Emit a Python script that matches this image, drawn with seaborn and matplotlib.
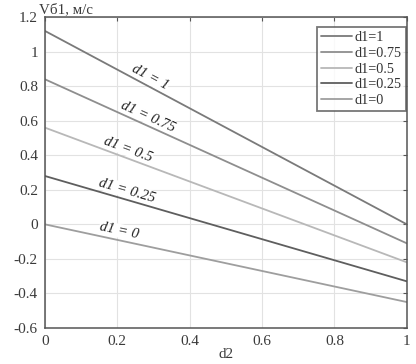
import numpy as np
import pandas as pd
import matplotlib
matplotlib.use("Agg")
import matplotlib.pyplot as plt
import seaborn as sns

# Data: each line runs straight from d2=0 to d2=1
d2_points = [0.0, 1.0]
d1_values = ["1", "0.75", "0.5", "0.25", "0"]
v_at_start = [1.12, 0.84, 0.56, 0.28, 0.0]
v_at_end = [0.0, -0.11, -0.22, -0.33, -0.45]
line_colors = ["#7a7a7a", "#8e8e8e", "#b8b8b8", "#5e5e5e", "#9e9e9e"]

# where the in-plot labels sit along each line (d2 position)
label_d2 = [0.29, 0.285, 0.23, 0.226, 0.205]

x_ticks = [0, 0.2, 0.4, 0.6, 0.8, 1]
x_tick_labels = ["0", "0.2", "0.4", "0.6", "0.8", "1"]
y_ticks = [-0.6, -0.4, -0.2, 0, 0.2, 0.4, 0.6, 0.8, 1, 1.2]
y_tick_labels = ["-0.6", "-0.4", "-0.2", "0", "0.2", "0.4", "0.6", "0.8", "1", "1.2"]

# Long-form table for seaborn
rows = []
for d1, v0, v1 in zip(d1_values, v_at_start, v_at_end):
    for d2, v in zip(d2_points, [v0, v1]):
        rows.append({"d2": d2, "V": v, "series": f"d1={d1}"})
df = pd.DataFrame(rows)
series_order = [f"d1={d1}" for d1 in d1_values]

sns.set_style("whitegrid", {"grid.color": "#e2e2e2", "axes.edgecolor": "#555555"})
plt.rcParams["font.family"] = ["Liberation Serif", "DejaVu Serif"]

fig, ax = plt.subplots(figsize=(4.16, 3.64), dpi=100)
fig.subplots_adjust(left=0.108, right=0.978, top=0.953, bottom=0.099)

sns.lineplot(data=df, x="d2", y="V", hue="series", hue_order=series_order,
             palette=dict(zip(series_order, line_colors)), linewidth=1.3, ax=ax)

ax.set_xlim(0, 1)
ax.set_ylim(-0.6, 1.2)
ax.set_xticks(x_ticks)
ax.set_xticklabels(x_tick_labels)
ax.set_yticks(y_ticks)
ax.set_yticklabels(y_tick_labels)
ax.tick_params(direction="in", length=3, width=0.8, colors="#555555",
               labelcolor="#3a3a3a", labelsize=11, top=True, right=True, pad=5)
ax.grid(True, linewidth=0.8)
for sp in ax.spines.values():
    sp.set_linewidth(1.1)
    sp.set_color("#555555")

ax.set_xlabel("d2", fontsize=11, color="#3a3a3a", labelpad=0)
ax.set_ylabel("")
ax.text(-0.015, 1.004, "Vб1, м/с", transform=ax.transAxes, ha="left", va="bottom",
        fontsize=10.8, color="#3a3a3a")

# Line labels, rotated along each line
for d1, v0, v1, xl in zip(d1_values, v_at_start, v_at_end, label_d2):
    slope = (v1 - v0) / (d2_points[1] - d2_points[0])
    y_line = v0 + slope * (xl - d2_points[0])
    ang = np.degrees(np.arctan(slope))
    ax.text(xl, y_line + 0.055, f"d1 = {d1}", fontsize=10.6, style="italic",
            ha="center", va="center", rotation=ang, rotation_mode="anchor",
            transform_rotates_text=True, color="#222222",
            bbox=dict(facecolor="white", edgecolor="none", pad=0.3))

handles, labels = ax.get_legend_handles_labels()
leg = ax.legend(handles, labels, loc="upper right", bbox_to_anchor=(0.997, 0.968),
                borderaxespad=0, fontsize=10.3, frameon=True, fancybox=False,
                handlelength=2.2, handletextpad=0.15, labelspacing=0.18,
                borderpad=0.3)
leg.get_frame().set_edgecolor("#555555")
leg.get_frame().set_linewidth(1.3)
for t in leg.get_texts():
    t.set_color("#333333")

fig.savefig("out.png", dpi=100)
